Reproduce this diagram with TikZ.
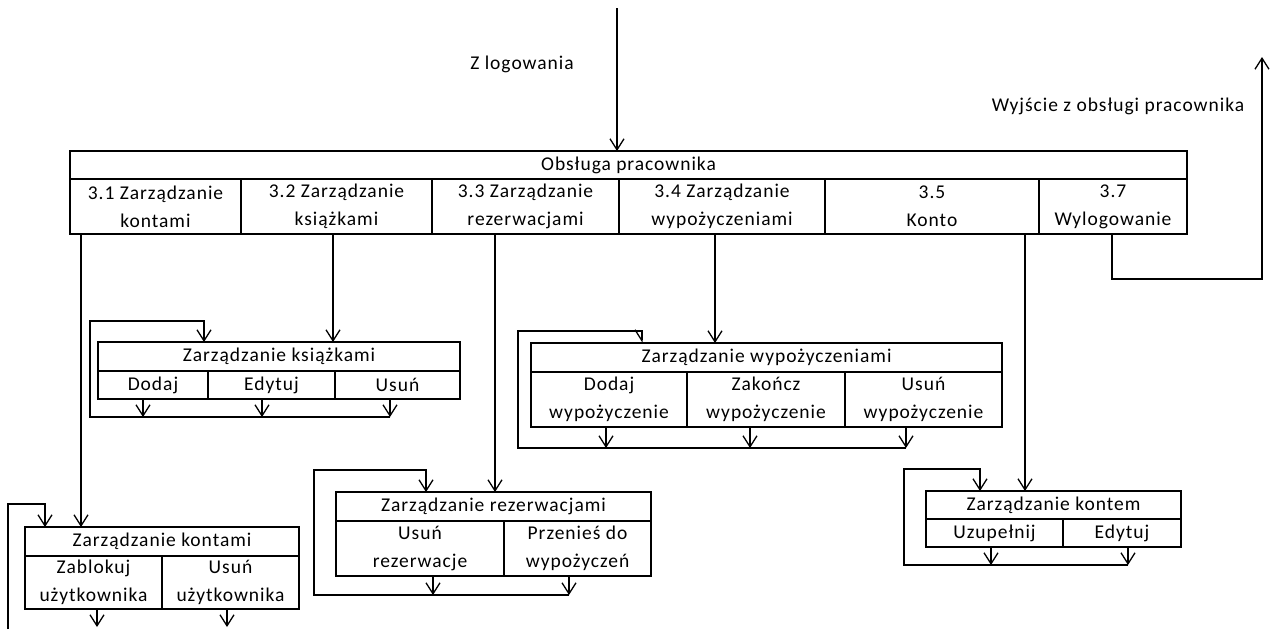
\documentclass[tikz,border=0pt]{standalone}
\usepackage{fontspec}
\setmainfont{Carlito}[LetterSpace=5]
\usetikzlibrary{arrows.meta}
\begin{document}
\begin{tikzpicture}[x=1pt,y=-1pt,
  box/.style={draw, line width=1.3pt, inner sep=0pt, outer sep=0pt, anchor=north west,
    align=center, font=\fontsize{19.5}{28}\selectfont},
  link/.style={line width=1.3pt},
  arr/.style={link, -{Straight Barb[length=11pt,width=14pt]}},
  harp/.style={link, -{Straight Barb[right,length=11pt,width=14pt]}},
  lbl/.style={font=\fontsize{19.5}{28}\selectfont, inner sep=0pt}]
\useasboundingbox (0,0) rectangle (1271,629);

% ---- main menu ----
\node[box, minimum width=1117pt, minimum height=28pt] (mH) at (70,151) {Obsługa pracownika};
\node[box, minimum width=171pt, minimum height=55pt] (c31) at (70,179) {3.1 Zarządzanie\\kontami};
\node[box, minimum width=191pt, minimum height=55pt] (c32) at (241,179) {3.2 Zarządzanie\\książkami};
\node[box, minimum width=187pt, minimum height=55pt] (c33) at (432,179) {3.3 Zarządzanie\\rezerwacjami};
\node[box, minimum width=206pt, minimum height=55pt] (c34) at (619,179) {3.4 Zarządzanie\\wypożyczeniami};
\node[box, minimum width=214pt, minimum height=55pt] (c35) at (825,179) {3.5\\Konto};
\node[box, minimum width=148pt, minimum height=55pt] (c37) at (1039,179) {3.7\\Wylogowanie};

\node[lbl] (inlbl) at (522,64) {Z logowania};
\node[lbl] (outlbl) at (1118,106) {Wyjście z obsługi pracownika};
\coordinate (inTop) at (617,8);
\coordinate (outTop) at (1262,57);

% ---- books ----
\node[box, minimum width=362pt, minimum height=29pt] (ksH) at (98,342) {Zarządzanie książkami};
\node[box, minimum width=110pt, minimum height=28pt] (ksA) at (98,371) {Dodaj};
\node[box, minimum width=127pt, minimum height=28pt] (ksB) at (208,371) {Edytuj};
\node[box, minimum width=125pt, minimum height=28pt] (ksC) at (335,371) {Usuń};

% ---- loans ----
\node[box, minimum width=471pt, minimum height=29pt] (wH) at (531,343) {Zarządzanie wypożyczeniami};
\node[box, minimum width=156pt, minimum height=55pt] (wA) at (531,372) {Dodaj\\wypożyczenie};
\node[box, minimum width=158pt, minimum height=55pt] (wB) at (687,372) {Zakończ\\wypożyczenie};
\node[box, minimum width=157pt, minimum height=55pt] (wC) at (845,372) {Usuń\\wypożyczenie};

% ---- reservations ----
\node[box, minimum width=315pt, minimum height=29pt] (rH) at (336,492) {Zarządzanie rezerwacjami};
\node[box, minimum width=168pt, minimum height=55pt] (rA) at (336,521) {Usuń\\rezerwacje};
\node[box, minimum width=147pt, minimum height=55pt] (rB) at (504,521) {Przenieś do\\wypożyczeń};

% ---- own account ----
\node[box, minimum width=255pt, minimum height=28pt] (kH) at (926,491) {Zarządzanie kontem};
\node[box, minimum width=137pt, minimum height=28pt] (kA) at (926,519) {Uzupełnij};
\node[box, minimum width=118pt, minimum height=28pt] (kB) at (1063,519) {Edytuj};

% ---- accounts ----
\node[box, minimum width=274pt, minimum height=29pt] (kmH) at (25,527) {Zarządzanie kontami};
\node[box, minimum width=137pt, minimum height=53pt] (kmA) at (25,556) {Zablokuj\\użytkownika};
\node[box, minimum width=137pt, minimum height=53pt] (kmB) at (162,556) {Usuń\\użytkownika};

% ---- entry and exit ----
\draw[arr] (inTop) -- (inTop |- mH.north);
\draw[arr] (c37.south -| 1112,0) |- (1262,279) -- (outTop);

% ---- menu to submodules ----
\draw[arr] (c31.south -| 81,0) -- (kmH.north -| 81,0);
\draw[arr] (c32.south -| 333,0) -- (ksH.north -| 333,0);
\draw[arr] (c33.south -| 495,0) -- (rH.north -| 495,0);
\draw[arr] (c34.south -| 715,0) -- (wH.north -| 715,0);
\draw[arr] (c35.south -| 1025,0) -- (kH.north -| 1025,0);

% ---- books: actions and return loop ----
\coordinate (ksRet) at (390,417);
\draw[arr] (ksA.south -| 143,0) -- (ksRet -| 143,0);
\draw[arr] (ksB.south -| 262,0) -- (ksRet -| 262,0);
\draw[arr] (ksC.south -| 390,0) -- (ksRet);
\draw[arr] (ksRet) -| (90,321) -| (ksH.north -| 204,0);

% ---- loans: actions and return loop ----
\coordinate (wRet) at (906,448);
\draw[arr] (wA.south -| 606,0) -- (wRet -| 606,0);
\draw[arr] (wB.south -| 750,0) -- (wRet -| 750,0);
\draw[arr] (wC.south -| 906,0) -- (wRet);
\draw[harp] (wRet) -| (518,331) -| (wH.north -| 642,0);

% ---- reservations: actions and return loop ----
\coordinate (rRet) at (569,595);
\draw[arr] (rA.south -| 433,0) -- (rRet -| 433,0);
\draw[arr] (rB.south -| 569,0) -- (rRet);
\draw[arr] (rRet) -| (314,470) -| (rH.north -| 426,0);

% ---- own account: actions and return loop ----
\coordinate (kRet) at (1128,565);
\draw[arr] (kA.south -| 991,0) -- (kRet -| 991,0);
\draw[arr] (kB.south -| 1128,0) -- (kRet);
\draw[arr] (kRet) -| (904,469) -| (kH.north -| 980,0);

% ---- accounts: actions and return loop ----
\coordinate (kmRet) at (8,629);
\draw[arr] (kmA.south -| 97,0) -- (97,627);
\draw[arr] (kmB.south -| 227,0) -- (227,627);
\draw[arr] (kmRet) |- (45,504) -- (kmH.north -| 45,0);
\end{tikzpicture}
\end{document}
